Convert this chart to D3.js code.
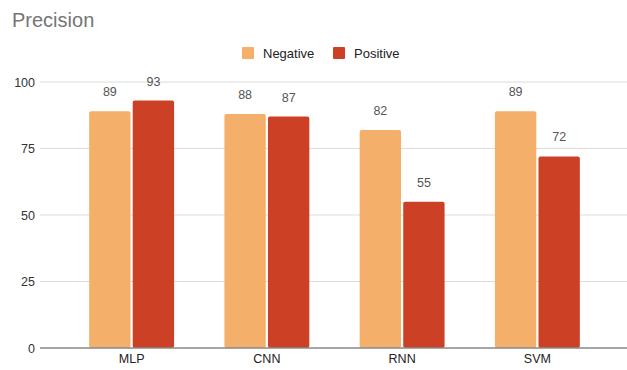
<!DOCTYPE html>
<html>
<head>
<meta charset="utf-8">
<script src="https://cdn.jsdelivr.net/npm/d3@7/dist/d3.min.js"></script>
<style>
  html, body { margin: 0; padding: 0; background: #fff; }
  svg { display: block; font-family: "Liberation Sans", Arial, sans-serif; }
</style>
</head>
<body>
<svg id="chart" width="627" height="370"></svg>
<script>
// Precision per model, split by class
const categories = ["MLP", "CNN", "RNN", "SVM"];
const seriesNames = ["Negative", "Positive"];
const negativeValues = [89, 88, 82, 89];
const positiveValues = [93, 87, 55, 72];
const yTicks = [0, 25, 50, 75, 100];
const colors = ["#F4B06B", "#CC4125"];

const svg = d3.select("#chart");
const W = 627, H = 370;

const y = d3.scaleLinear().domain([0, 100]).range([348, 82]);
const x0 = d3.scaleBand().domain(categories).range([64, 605]).paddingInner(0.372).paddingOuter(0.186);
const x1 = d3.scaleBand().domain(seriesNames).range([0, x0.bandwidth()]).paddingInner(0.05);
const color = d3.scaleOrdinal().domain(seriesNames).range(colors);

// Title
svg.append("text")
  .attr("x", 12).attr("y", 27)
  .attr("font-size", 20).attr("fill", "#757575")
  .text("Precision");

// Legend
const legend = svg.append("g");
const legendX = [242, 333];
seriesNames.forEach((name, i) => {
  const g = legend.append("g").attr("transform", `translate(${legendX[i]},47)`);
  g.append("rect").attr("width", 12).attr("height", 12).attr("rx", 1).attr("fill", color(name));
  g.append("text").attr("x", 21).attr("y", 10.5).attr("font-size", 13).attr("fill", "#222").text(name);
});

// Gridlines
svg.append("g").selectAll("line")
  .data(yTicks.filter(d => d > 0))
  .join("line")
  .attr("x1", 40).attr("x2", W)
  .attr("y1", d => y(d)).attr("y2", d => y(d))
  .attr("stroke", "#dcdcdc").attr("stroke-width", 1);

// Y axis labels
const yAxis = d3.axisLeft(y).tickValues(yTicks).tickSize(0).tickPadding(0);
svg.append("g")
  .attr("transform", "translate(35,0)")
  .call(yAxis)
  .call(g => g.select(".domain").remove())
  .call(g => g.selectAll("text")
    .attr("font-size", 12.5).attr("fill", "#333")
    .attr("font-family", "Liberation Sans, Arial, sans-serif"));

// Bars
const rows = categories.map((c, i) => ({ cat: c, values: [negativeValues[i], positiveValues[i]] }));
const groups = svg.append("g").selectAll("g")
  .data(rows)
  .join("g")
  .attr("transform", d => `translate(${x0(d.cat)},0)`);

groups.selectAll("rect")
  .data(d => d.values.map((v, j) => ({ key: seriesNames[j], value: v })))
  .join("rect")
  .attr("x", d => x1(d.key))
  .attr("y", d => y(d.value))
  .attr("width", x1.bandwidth())
  .attr("height", d => y(0) - y(d.value))
  .attr("rx", 2)
  .attr("fill", d => color(d.key));

// Value labels
groups.selectAll("text.val")
  .data(d => d.values.map((v, j) => ({ key: seriesNames[j], value: v })))
  .join("text")
  .attr("class", "val")
  .attr("x", d => x1(d.key) + x1.bandwidth() / 2)
  .attr("y", d => y(d.value) - 15)
  .attr("text-anchor", "middle")
  .attr("font-size", 12.5).attr("fill", "#555")
  .text(d => d.value);

// Baseline
svg.append("line")
  .attr("x1", 40).attr("x2", W)
  .attr("y1", y(0)).attr("y2", y(0))
  .attr("stroke", "#888").attr("stroke-width", 1.5);

// X axis labels
const xAxis = d3.axisBottom(x0).tickSize(0).tickPadding(0);
svg.append("g")
  .attr("transform", `translate(0,${y(0) + 15})`)
  .call(xAxis)
  .call(g => g.select(".domain").remove())
  .call(g => g.selectAll("text")
    .attr("dy", 0)
    .attr("font-size", 12.5).attr("fill", "#222")
    .attr("font-family", "Liberation Sans, Arial, sans-serif"));
</script>
</body>
</html>
